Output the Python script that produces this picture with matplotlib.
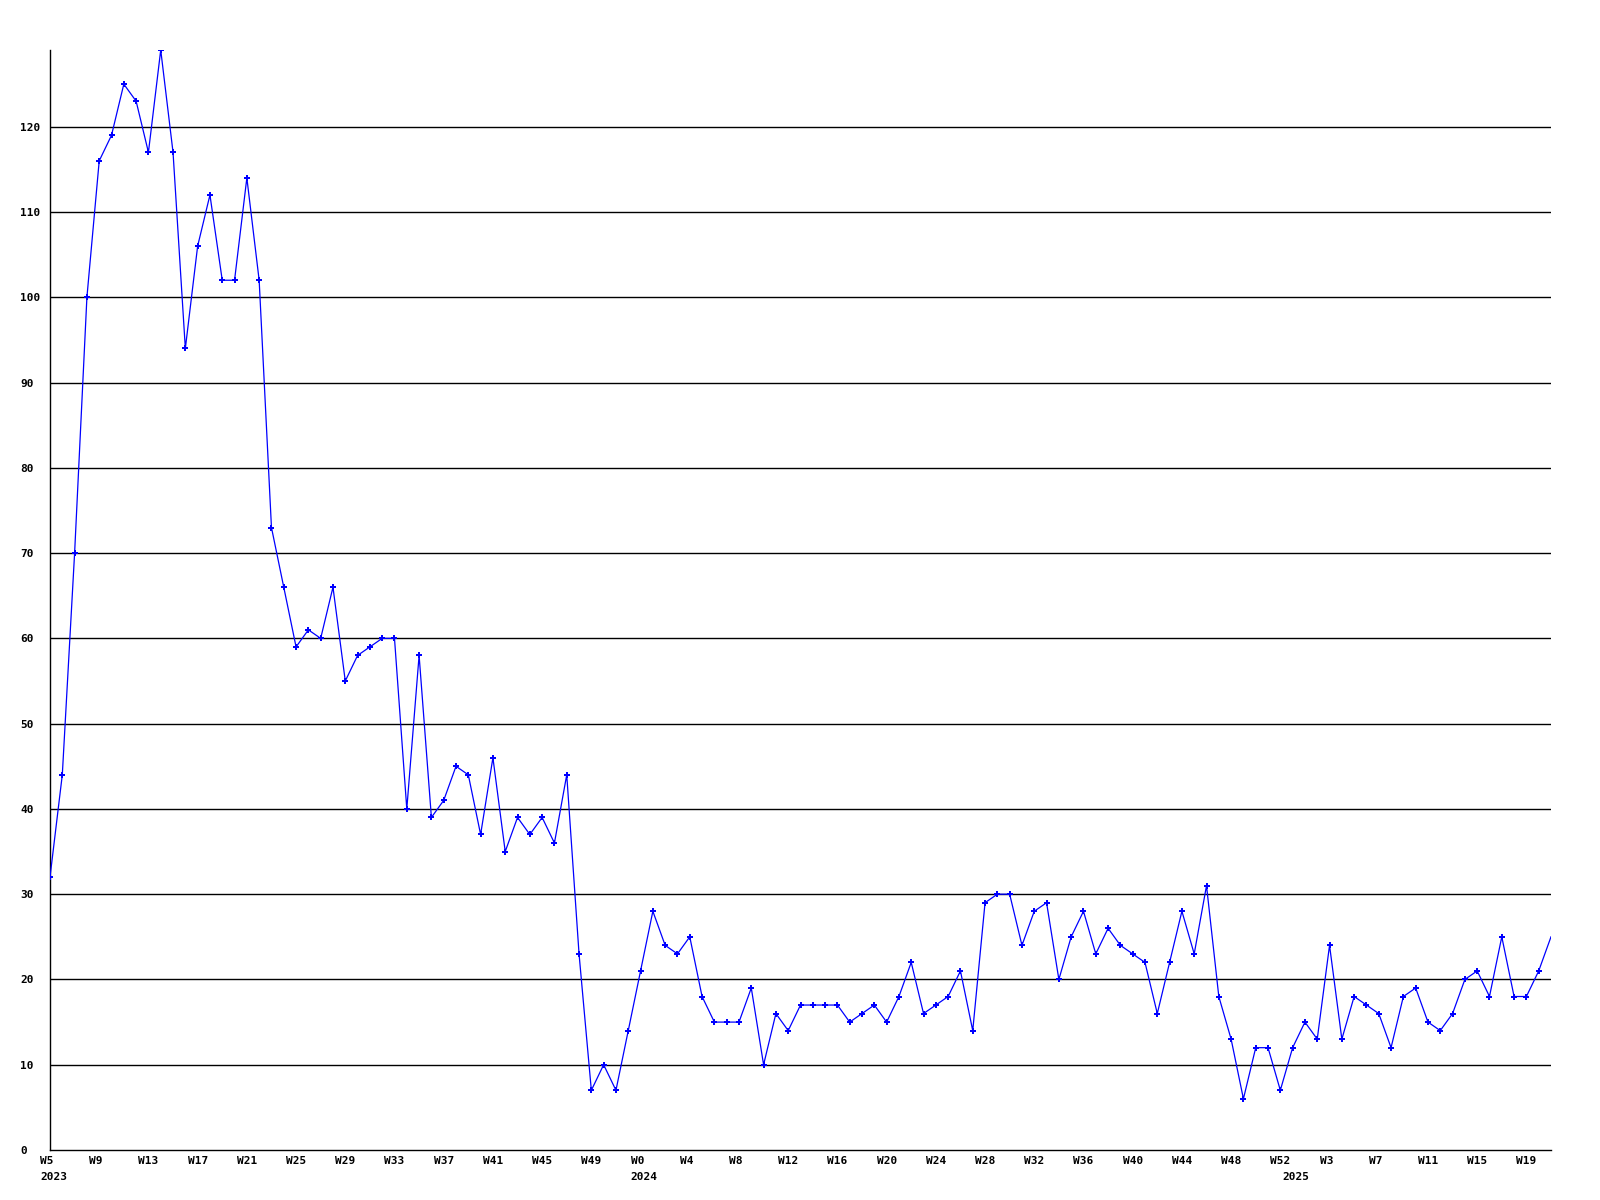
import matplotlib
matplotlib.use("Agg")
import matplotlib.pyplot as plt
import matplotlib.transforms as mtransforms

# ---- data ----
years = ["2023", "2024", "2025"]
first_week = [5, 0, 0]
last_week = [52, 52, 21]

values = [32, 44, 70, 100, 116, 119, 125, 123, 117, 129,
          117, 94, 106, 112, 102, 102, 114, 102, 73, 66,
          59, 61, 60, 66, 55, 58, 59, 60, 60, 40,
          58, 39, 41, 45, 44, 37, 46, 35, 39, 37,
          39, 36, 44, 23, 7, 10, 7, 14, 21, 28,
          24, 23, 25, 18, 15, 15, 15, 19, 10, 16,
          14, 17, 17, 17, 17, 15, 16, 17, 15, 18,
          22, 16, 17, 18, 21, 14, 29, 30, 30, 24,
          28, 29, 20, 25, 28, 23, 26, 24, 23, 22,
          16, 22, 28, 23, 31, 18, 13, 6, 12, 12,
          7, 12, 15, 13, 24, 13, 18, 17, 16, 12,
          18, 19, 15, 14, 16, 20, 21, 18, 25, 18,
          18, 21, 25]

y_ticks = list(range(0, 121, 10))

# categories: (year, week) for each point
categories = []
for yr, w0, w1 in zip(years, first_week, last_week):
    for w in range(w0, w1 + 1):
        categories.append((yr, w))

x = list(range(len(values)))

# ---- figure ----
fig = plt.figure(figsize=(16, 12), dpi=100)
ax = fig.add_axes([50 / 1600, 1 - 1150 / 1200, 1501 / 1600, 1100 / 1200])

for v in y_ticks[1:]:
    ax.axhline(v, color="black", lw=1.0, zorder=1)

marks = list(range(len(values) - 1))
ax.plot(x, values, color="#0000ff", lw=0.9, zorder=3)
ax.plot(x, values, color="#0000ff", lw=0, marker="P", markersize=4.6,
        markeredgewidth=0, markevery=marks, zorder=4)
ax.plot(x, values, color="#0000ff", lw=0, marker="s", markersize=2.0,
        markeredgewidth=0, markevery=marks, zorder=4)

ax.set_xlim(0, len(values) - 1)
ax.set_ylim(0, max(values))

for s in ["top", "right"]:
    ax.spines[s].set_visible(False)
for s in ["left", "bottom"]:
    ax.spines[s].set_color("black")
    ax.spines[s].set_linewidth(1.0)

font = dict(family="DejaVu Sans Mono", weight="bold", size=8)

ax.set_yticks(y_ticks)
ax.set_yticklabels([str(v) for v in y_ticks], ha="left", **font)
ax.tick_params(axis="y", length=0, pad=21.6)
ax.set_xticks([])

dx = mtransforms.ScaledTranslation(-10 / 100, 0, fig.dpi_scale_trans)
trans = mtransforms.blended_transform_factory(ax.transData, ax.transAxes) + dx

seen_years = set()
for i, (yr, w) in enumerate(categories):
    if i % 4 == 0:
        ax.text(i, 0, f"W{w}", transform=trans + mtransforms.ScaledTranslation(0, -11 / 100, fig.dpi_scale_trans),
                ha="left", va="center", **font)
    if yr not in seen_years:
        seen_years.add(yr)
        ax.text(i, 0, yr, transform=trans + mtransforms.ScaledTranslation(0, -27 / 100, fig.dpi_scale_trans),
                ha="left", va="center", **font)

fig.savefig("out.png", dpi=100, facecolor="white")
